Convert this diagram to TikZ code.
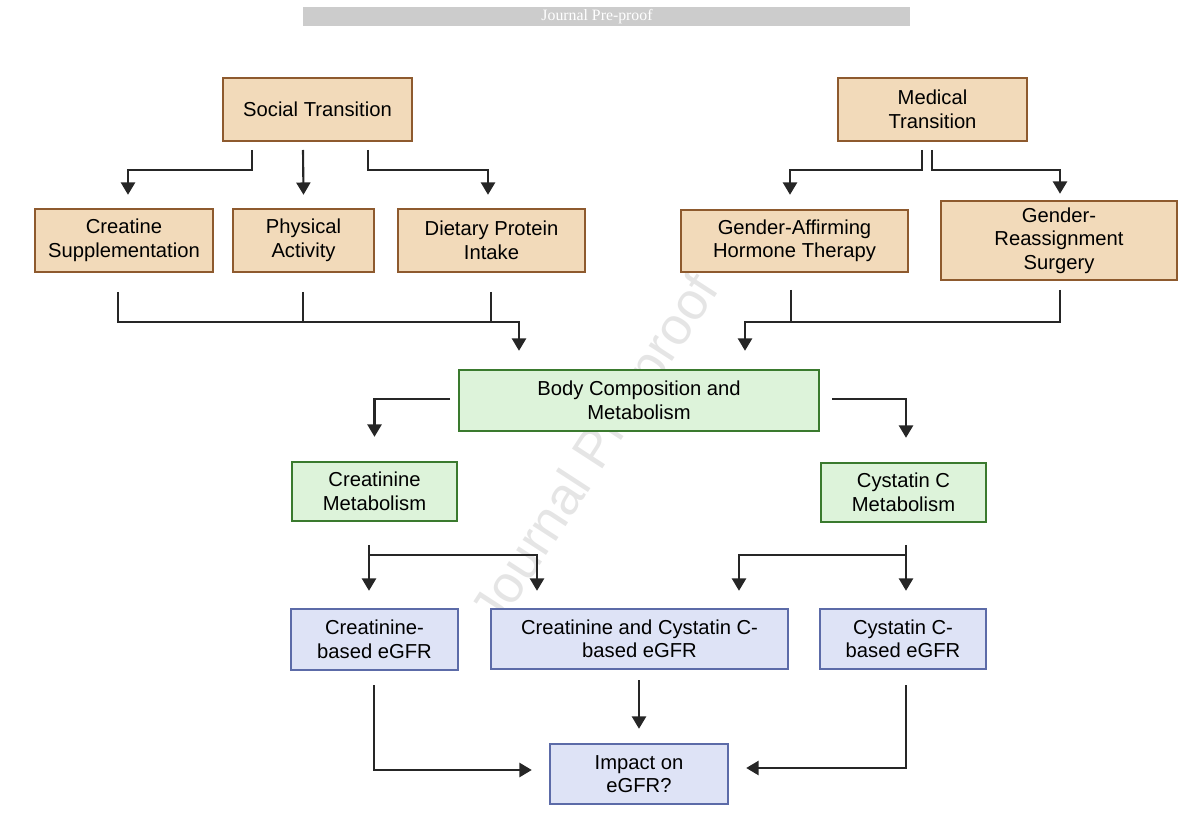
\documentclass[tikz,border=0pt]{standalone}
\usepackage{fontspec}
\setmainfont{Liberation Sans}
\newfontfamily\banfont{Liberation Serif}
\usetikzlibrary{arrows.meta, calc}
\definecolor{tanfill}{HTML}{F2DABA}
\definecolor{tanline}{HTML}{8E5A2E}
\definecolor{grnfill}{HTML}{DDF3DA}
\definecolor{grnline}{HTML}{3A7A2E}
\definecolor{blufill}{HTML}{DEE3F6}
\definecolor{bluline}{HTML}{5C6BA8}
\tikzset{
box/.style 2 args={draw=#2, fill=#1, line width=1.4pt, align=center,
	inner sep=0pt, font=\fontsize{11.5}{13.4}\selectfont},
tanbox/.style={box={tanfill}{tanline}},
grnbox/.style={box={grnfill}{grnline}},
blubox/.style={box={blufill}{bluline}},
link/.style={line width=1.2pt, draw=black!85},
arr/.style={link, -{Triangle[length=7pt,width=8pt]}},
}

\begin{document}
\begin{tikzpicture}[x=0.02cm, y=-0.02cm]
\useasboundingbox (0,0) rectangle (1200,837);
% banner and watermark
\fill[black!20] (303,7) rectangle (910,26);
\node[font=\banfont\small, text=white] (ban) at (597,16.5) {Journal Pre-proof};
\node[font=\fontsize{30}{30}\selectfont, text=black!10, rotate=57] (wm) at (598,452) {Journal Pre-proof};

%Place the nodes
\node[tanbox, minimum width=189*0.02cm, minimum height=63*0.02cm] (soc) at (317.5,109.5) {Social Transition};
\node[tanbox, minimum width=189*0.02cm, minimum height=63*0.02cm] (med) at (932.5,109.5) {Medical\\Transition};
\node[tanbox, minimum width=178*0.02cm, minimum height=63*0.02cm] (cre) at (124,240.5) {Creatine\\Supplementation};
\node[tanbox, minimum width=141*0.02cm, minimum height=63*0.02cm] (phy) at (303.5,240.5) {Physical\\Activity};
\node[tanbox, minimum width=187*0.02cm, minimum height=63*0.02cm] (diet) at (491.5,240.5) {Dietary Protein\\Intake};
\node[tanbox, minimum width=227*0.02cm, minimum height=62*0.02cm] (ghrt) at (794.5,241) {Gender-Affirming\\Hormone Therapy};
\node[tanbox, minimum width=236*0.02cm, minimum height=79*0.02cm] (surg) at (1059,240.5) {Gender-\\Reassignment\\Surgery};
\node[grnbox, minimum width=360*0.02cm, minimum height=61*0.02cm] (body) at (639,400.5) {Body Composition and\\Metabolism};
\node[grnbox, minimum width=165*0.02cm, minimum height=59*0.02cm] (crm) at (374.5,491.5) {Creatinine\\Metabolism};
\node[grnbox, minimum width=165*0.02cm, minimum height=59*0.02cm] (cym) at (903.5,492.5) {Cystatin C\\Metabolism};
\node[blubox, minimum width=167*0.02cm, minimum height=61*0.02cm] (cregfr) at (374.5,639.5) {Creatinine-\\based eGFR};
\node[blubox, minimum width=297*0.02cm, minimum height=60*0.02cm] (bothgfr) at (639.5,639) {Creatinine and Cystatin C-\\based eGFR};
\node[blubox, minimum width=166*0.02cm, minimum height=60*0.02cm] (cygfr) at (903,639) {Cystatin C-\\based eGFR};
\node[blubox, minimum width=178*0.02cm, minimum height=60*0.02cm] (imp) at (639,774) {Impact on\\eGFR?};

%bend points
\coordinate (s1) at (252,150); \coordinate (s2) at (303,150); \coordinate (s3) at (368,150);
\coordinate (m1) at (922,150); \coordinate (m2) at (932,150);
\coordinate (c1) at (118,292); \coordinate (p1) at (303,292); \coordinate (d1) at (491,292);
\coordinate (g1) at (791,290); \coordinate (r1) at (1060,290);
\coordinate (b1) at (450,399); \coordinate (b2) at (832,399);
\coordinate (k1) at (369,545); \coordinate (k2) at (906,545);
\coordinate (e1) at (374,685); \coordinate (e2) at (639,680); \coordinate (e3) at (906,685);

% social
\draw[arr] (s1) -- (252,170) -| ($(cre.north)+(4,-13)$);
\draw[arr] (s2) -- ($(phy.north)+(0,-13)$);
\draw[arr] (s3) -- (368,170) -| ($(diet.north)+(-3.5,-13)$);
% medical
\draw[arr] (m1) -- (922,170) -| ($(ghrt.north)+(-4.5,-14)$);
\draw[arr] (m2) -- (932,170) -| ($(surg.north)+(1,-6)$);
% to body
\draw[link] (c1) -- (118,322) -- (519,322);
\draw[link] (p1) -- (303,322);
\draw[link] (d1) -- (491,322);
\draw[arr] (519,321.4) -- ($(body.north)+(-120,-18)$);
\draw[link] (g1) -- (791,322);
\draw[arr] (r1) -- (1060,322) -| ($(body.north)+(106,-18)$);
% from body
\draw[arr] (b1) -| ($(crm.north)+(0,-24)$);
\draw[arr] (b2) -| ($(cym.north)+(2.5,-24)$);
% metabolism
\draw[arr] (k1) -- ($(cregfr.north)+(-5.5,-17)$);
\draw[arr] (369,555) -| ($(bothgfr.north)+(-102.5,-17)$);
\draw[arr] (k2) -- ($(cygfr.north)+(3,-17)$);
\draw[arr] (906,555) -| ($(bothgfr.north)+(99.5,-17)$);
% eGFR
\draw[arr] (e1) |- ($(imp.west)+(-17,-4)$);
\draw[arr] (e2) -- ($(imp.north)+(0,-14)$);
\draw[arr] (e3) |- ($(imp.east)+(17,-6)$);
\end{tikzpicture}
\end{document}
